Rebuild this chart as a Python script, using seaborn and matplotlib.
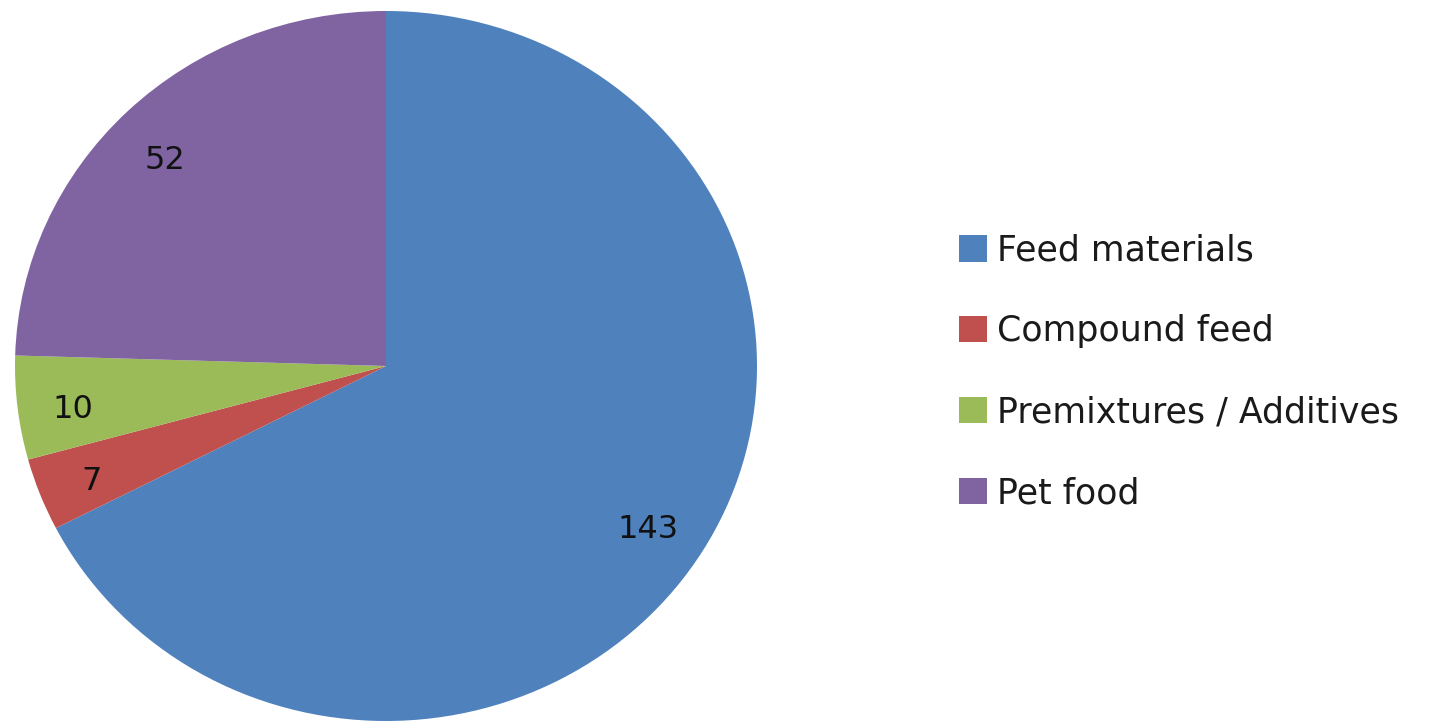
import matplotlib
matplotlib.use("Agg")
import matplotlib.pyplot as plt
import matplotlib.transforms as mtransforms
import seaborn as sns

# данные
categories = ["Feed materials", "Compound feed", "Premixtures / Additives", "Pet food"]
values = [143, 7, 10, 52]
colors = ["#4F81BD", "#C0504D", "#9BBB59", "#8064A2"]

sns.set_theme(style="white")
plt.rcParams["font.family"] = ["DejaVu Sans"]
palette = sns.color_palette(colors)

fig = plt.figure(figsize=(14.35, 7.26), dpi=100)
ax = fig.add_axes([15 / 1435, 5 / 726, 742 / 1435, 710 / 726])

total = sum(values)
wedges, _, autotexts = ax.pie(
    values,
    colors=palette,
    startangle=90,
    counterclock=False,
    autopct=lambda p: f"{round(p * total / 100):.0f}",
    pctdistance=0.84,
    wedgeprops=dict(linewidth=0),
    textprops=dict(fontsize=23, color="#111111"),
)
ax.set_aspect("auto")
ax.set_xlim(-1, 1)
ax.set_ylim(-1, 1)

# подписи в Excel сидят чуть ниже
shift = mtransforms.offset_copy(ax.transData, fig=fig, x=-4, y=-8, units="dots")
for t in autotexts:
    t.set_transform(shift)

fig.legend(
    wedges,
    categories,
    loc="center left",
    bbox_to_anchor=(959 / 1435, 0.488),
    frameon=False,
    fontsize=25,
    handlelength=0.8,
    handleheight=0.8,
    handletextpad=0.3,
    labelspacing=1.35,
    borderpad=0,
    borderaxespad=0,
    labelcolor="#1a1a1a",
)

fig.savefig("out.png", dpi=100)
plt.close(fig)
